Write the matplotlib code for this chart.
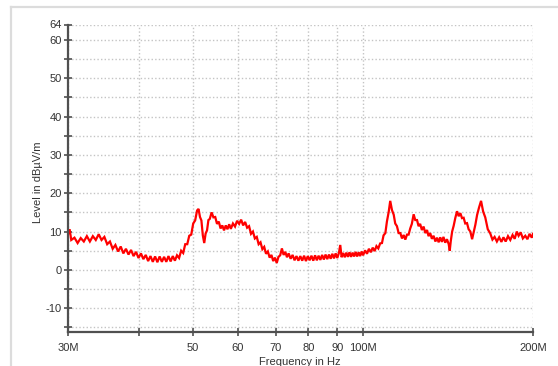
import matplotlib
matplotlib.use("Agg")
import matplotlib.pyplot as plt
from matplotlib.lines import Line2D
from matplotlib.ticker import FixedLocator, NullFormatter, NullLocator

plt.rcParams['font.family'] = ['Liberation Sans', 'DejaVu Sans']

# ---- data ----
freq_mhz = [
    30.0, 30.2, 30.4, 30.8, 31.2, 31.6, 32.0, 32.4, 32.8, 33.2, 33.6, 34.0, 34.4, 34.8,
    35.2, 35.6, 36.0, 36.4, 36.8, 37.2, 37.6, 38.0, 38.4, 38.8, 39.2, 39.6, 40.0, 40.4,
    40.8, 41.2, 41.6, 42.0, 42.4, 42.8, 43.2, 43.6, 44.0, 44.4, 44.8, 45.2, 45.6, 46.0,
    46.4, 46.8, 47.2, 47.6, 48.0, 48.4, 48.8, 49.2, 49.6, 50.0, 50.4, 50.8, 51.1, 51.4,
    51.7, 52.0, 52.3, 52.6, 52.9, 53.2, 53.5, 53.9, 54.3, 54.7, 55.1, 55.5, 55.9, 56.3,
    56.7, 57.1, 57.5, 57.9, 58.3, 58.8, 59.3, 59.8, 60.3, 60.8, 61.3, 61.8, 62.3, 62.8,
    63.3, 63.8, 64.3, 64.8, 65.3, 65.8, 66.3, 66.8, 67.3, 67.8, 68.3, 68.8, 69.3, 69.8,
    70.3, 70.8, 71.3, 71.8, 72.3, 72.8, 73.3, 73.8, 74.4, 75.0, 75.6, 76.2, 76.8, 77.4,
    78.0, 78.6, 79.2, 79.8, 80.4, 81.0, 81.6, 82.2, 82.8, 83.4, 84.0, 84.6, 85.2, 85.8,
    86.4, 87.0, 87.6, 88.2, 88.8, 89.4, 90.0, 90.6, 91.1, 91.6, 92.2, 92.8, 93.4, 94.0,
    94.6, 95.2, 95.8, 96.4, 97.0, 97.6, 98.2, 98.8, 99.4, 100.0, 100.8, 101.6, 102.4, 103.2,
    104.0, 104.8, 105.6, 106.4, 107.2, 108.0, 108.7, 109.5, 110.2, 111.0, 111.7, 112.5, 113.3, 114.0,
    114.8, 115.6, 116.4, 117.2, 118.0, 118.8, 119.6, 120.4, 121.2, 122.0, 122.9, 123.7, 124.6, 125.4,
    126.2, 127.1, 128.0, 128.9, 129.8, 130.6, 131.5, 132.4, 133.3, 134.3, 135.2, 136.1, 137.0, 137.9,
    138.8, 139.8, 140.8, 141.8, 142.4, 143.0, 143.8, 144.7, 145.7, 146.7, 147.7, 148.7, 149.7, 150.7,
    151.7, 152.8, 153.8, 154.9, 156.0, 157.0, 158.1, 159.2, 160.5, 161.8, 163.2, 164.6, 166.3, 168.0,
    169.5, 171.0, 172.6, 174.2, 175.8, 177.3, 178.9, 180.6, 182.3, 184.0, 185.6, 187.2, 188.6, 190.2,
    191.9, 193.8, 195.5, 197.2, 199.0, 200.0,
]
level_dbuv = [
    9.3, 10.6, 7.8, 8.4, 7.0, 8.3, 7.4, 8.8, 7.4, 8.8, 7.8, 9.3, 7.8, 8.6,
    6.7, 7.4, 5.5, 6.5, 4.8, 6.1, 4.3, 5.5, 4.0, 5.2, 3.6, 4.7, 3.1, 4.3,
    2.8, 3.9, 2.3, 3.6, 2.1, 3.5, 2.0, 3.5, 2.1, 3.4, 2.1, 3.6, 2.2, 3.6,
    2.4, 3.8, 3.1, 5.0, 4.4, 6.7, 6.7, 8.9, 9.2, 12.1, 12.9, 15.5, 15.9, 13.8,
    12.9, 9.0, 7.0, 9.5, 10.3, 13.0, 13.3, 15.0, 13.7, 13.8, 12.0, 12.6, 10.8, 11.6,
    10.3, 11.6, 10.6, 11.9, 10.7, 12.1, 11.3, 12.8, 12.0, 13.1, 11.6, 12.5, 11.0, 11.4,
    9.4, 10.0, 8.2, 8.6, 6.7, 7.2, 5.4, 6.0, 4.2, 4.8, 3.2, 3.9, 2.3, 3.2,
    1.8, 3.4, 3.8, 5.6, 3.9, 4.7, 3.3, 4.3, 2.9, 3.9, 2.5, 3.6, 2.4, 3.6,
    2.4, 3.7, 2.3, 3.6, 2.5, 3.7, 2.4, 3.8, 2.5, 3.7, 2.6, 3.9, 2.7, 4.0,
    2.8, 4.0, 2.9, 4.2, 3.0, 4.3, 3.1, 4.4, 6.5, 3.3, 4.4, 3.3, 4.5, 3.4,
    4.6, 3.4, 4.5, 3.5, 4.7, 3.5, 4.6, 3.6, 4.8, 3.8, 5.1, 4.2, 5.5, 4.6,
    5.8, 4.9, 6.2, 5.6, 6.9, 7.0, 9.0, 9.6, 12.6, 15.1, 18.0, 15.6, 14.4, 12.1,
    11.4, 9.6, 9.6, 8.2, 9.1, 7.9, 9.2, 9.2, 10.8, 12.0, 14.5, 13.0, 13.0, 11.4,
    12.0, 10.4, 11.3, 9.6, 10.4, 8.8, 9.6, 8.1, 8.9, 7.4, 8.4, 7.2, 8.5, 7.3,
    8.6, 7.1, 8.0, 6.7, 5.0, 7.5, 10.0, 11.5, 13.6, 15.3, 14.0, 14.8, 13.5, 13.6,
    12.1, 12.2, 10.6, 10.0, 8.0, 9.8, 11.8, 14.3, 16.3, 18.0, 15.2, 13.7, 10.6, 9.5,
    7.9, 8.6, 7.4, 8.5, 7.3, 8.5, 7.4, 8.8, 7.8, 9.1, 8.1, 10.0, 8.9, 9.8,
    8.2, 8.9, 8.0, 9.4, 8.4, 9.4,
]
x_ticks = [30, 40, 50, 60, 70, 80, 90, 100, 200]
x_tick_labels = ["30M", "", "50", "60", "70", "80", "90", "100M", "200M"]
y_ticks = [-15, -10, -5, 0, 5, 10, 15, 20, 25, 30, 35, 40, 45, 50, 55, 60, 64]
y_tick_labels = ["", "-10", "", "0", "", "10", "", "20", "", "30", "", "40", "", "50", "", "60", "64"]

W, H = 558, 366
fig = plt.figure(figsize=(W / 100, H / 100), dpi=100)
fig.patch.set_facecolor("white")

left, right, top, bottom = 68, 533, 24.5, 332
ax = fig.add_axes([left / W, 1 - bottom / H, (right - left) / W, (bottom - top) / H])
ax.set_facecolor("white")

ax.plot(freq_mhz, level_dbuv, color="#ff0000", linewidth=1.6, solid_joinstyle="miter")

ax.set_xscale("log")
ax.set_xlim(30, 200)
ax.set_ylim(-16.2, 64)

ax.xaxis.set_major_locator(FixedLocator(x_ticks))
ax.xaxis.set_minor_locator(NullLocator())
ax.set_xticklabels(x_tick_labels)
ax.xaxis.set_minor_formatter(NullFormatter())
ax.set_yticks(y_ticks)
ax.set_yticklabels(y_tick_labels)

axis_col = "#505050"
for s in ["top", "right"]:
    ax.spines[s].set_visible(False)
for s in ["left", "bottom"]:
    ax.spines[s].set_color(axis_col)
    ax.spines[s].set_linewidth(1.6)

ax.tick_params(axis="both", which="major", direction="inout", length=6, width=1.2,
               color=axis_col, labelsize=8, labelcolor="#333333")
ax.tick_params(axis="y", pad=1.5)
ax.tick_params(axis="x", pad=5)

ax.grid(True, which="major", color="#c4c4c4", linestyle=(0, (1, 1.6)), linewidth=1.0)
ax.set_axisbelow(True)

fig.text(38 / W, 1 - 182 / H, "Level in dBµV/m", rotation=90, ha="center", va="center",
         fontsize=8, color="#333333")
fig.text(300 / W, 1 - 357 / H, "Frequency in Hz", ha="center", va="top",
         fontsize=8, color="#333333")

# light panel frame (top and left edges)
fig.add_artist(Line2D([10.5 / W, 1.0], [1 - 6.5 / H, 1 - 6.5 / H], transform=fig.transFigure,
                      color="#dcdcdc", linewidth=1.6))
fig.add_artist(Line2D([10.5 / W, 10.5 / W], [0, 1 - 6.5 / H], transform=fig.transFigure,
                      color="#dcdcdc", linewidth=1.6))

fig.savefig("out.png", dpi=100, facecolor="white")
